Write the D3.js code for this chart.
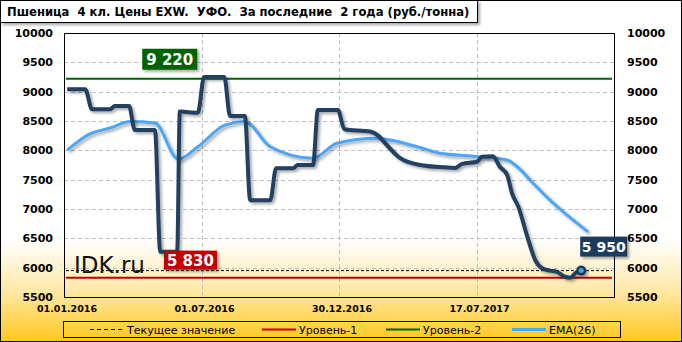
<!DOCTYPE html>
<html>
<head>
<meta charset="utf-8">
<script src="https://d3js.org/d3.v7.min.js"></script>
<style>
    body { margin: 0; padding: 0; background: #fff; }
    svg text { font-family: "DejaVu Sans", Verdana, sans-serif; }
</style>
</head>
<body>
<div id="chart"></div>
<script>
    // weekly index (0 = 01.01.2016) and price
    const priceSeries = [
        [0.6, 9040], [4.0, 9040], [5.3, 8700], [8.7, 8700], [9.6, 8755], [12.3, 8755],
        [13.4, 8345], [17.2, 8345], [18.2, 6270], [21.4, 6270], [21.9, 8660], [25.3, 8640],
        [26.5, 9250], [30.3, 9250], [31.4, 8585], [34.2, 8585], [35.2, 7150], [39.0, 7150],
        [40.1, 7694], [43.3, 7694], [44.2, 7750], [47.1, 7750], [48.0, 8688], [51.8, 8688],
        [53.0, 8360], [57.9, 8320], [59.4, 8250], [60.7, 8125], [63.5, 7870], [67.3, 7750],
        [72.0, 7710], [73.9, 7700], [75.3, 7770], [78.1, 7806], [79.0, 7890], [81.1, 7900],
        [82.4, 7720], [83.8, 7580], [84.7, 7270], [85.9, 7040], [87.6, 6530], [89.1, 6130],
        [90.4, 5990], [91.9, 5950], [93.2, 5930], [94.7, 5845], [95.7, 5830], [97.0, 5930],
        [97.8, 5950]
    ];
    const emaSeries = [
        [0.6, 8005], [4.9, 8280], [8.7, 8380], [12.5, 8490], [17.2, 8465], [21.6, 7850],
        [25.3, 8060], [30.4, 8430], [34.2, 8490], [39.0, 8062], [47.1, 7865], [51.6, 8120],
        [59.2, 8205], [61.6, 8175], [66.8, 8062], [71.1, 7950], [77.3, 7900], [83.8, 7835],
        [85.7, 7720], [88.7, 7440], [91.9, 7150], [95.1, 6900], [99.1, 6610]
    ];
    const level1 = 5830;
    const level2 = 9220;
    const current = 5950;
    const yTicks = [5500, 6000, 6500, 7000, 7500, 8000, 8500, 9000, 9500, 10000];
    const xTickIdx = [0, 26, 52, 78];
    const xTickLabels = ["01.01.2016", "01.07.2016", "30.12.2016", "17.07.2017"];
    const legendItems = ["Текущее значение", "Уровень-1", "Уровень-2", "EMA(26)"];
    const title = "Пшеница  4 кл. Цены EXW.  УФО.  За последние  2 года (руб./тонна)";

    const W = 682, H = 342;
    const pL = 64, pR = 614, pT = 33, pB = 297;

    const svg = d3.select("#chart").append("svg")
        .attr("width", W).attr("height", H);

    const defs = svg.append("defs");
    const grad = defs.append("linearGradient").attr("id", "bg")
        .attr("x1", 0).attr("y1", 0).attr("x2", 0).attr("y2", 1);
    grad.append("stop").attr("offset", "0.70").attr("stop-color", "#ffffff");
    grad.append("stop").attr("offset", "0.85").attr("stop-color", "#ffe9a6");
    grad.append("stop").attr("offset", "1").attr("stop-color", "#ffc81c");

    const shadow = defs.append("filter").attr("id", "shadow")
        .attr("x", "-10%").attr("y", "-10%").attr("width", "130%").attr("height", "130%");
    shadow.append("feDropShadow").attr("dx", 2).attr("dy", 2)
        .attr("stdDeviation", 1.5).attr("flood-color", "#000").attr("flood-opacity", 0.35);

    svg.append("rect").attr("x", 0.5).attr("y", 0.5)
        .attr("width", W - 1).attr("height", H - 1)
        .attr("fill", "url(#bg)").attr("stroke", "#000");

    let x = d3.scaleLinear().domain([0, 104]).range([pL, pR]);
    let y = d3.scaleLinear().domain([5500, 10000]).range([pB, pT]);

    // grid
    svg.append("g").selectAll("line").data(yTicks.slice(1, -1)).enter().append("line")
        .attr("x1", pL).attr("x2", pR)
        .attr("y1", d => Math.round(y(d)) + 0.5).attr("y2", d => Math.round(y(d)) + 0.5)
        .attr("stroke", "#bfbfbf").attr("stroke-dasharray", "4,3");
    svg.append("g").selectAll("line").data(xTickIdx.slice(1)).enter().append("line")
        .attr("x1", d => Math.round(x(d)) + 0.5).attr("x2", d => Math.round(x(d)) + 0.5)
        .attr("y1", pT).attr("y2", pB)
        .attr("stroke", "#bfbfbf").attr("stroke-dasharray", "4,3");

    svg.append("rect").attr("x", pL + 0.5).attr("y", pT + 0.5)
        .attr("width", pR - pL).attr("height", pB - pT)
        .attr("fill", "none").attr("stroke", "#000");

    // axes labels
    svg.append("g").selectAll("text").data(yTicks).enter().append("text")
        .attr("x", 53).attr("y", d => y(d) + 4)
        .attr("text-anchor", "end").attr("font-size", 11).attr("font-weight", "bold")
        .text(d => d);
    svg.append("g").selectAll("text").data(yTicks).enter().append("text")
        .attr("x", 627).attr("y", d => y(d) + 4)
        .attr("font-size", 11).attr("font-weight", "bold")
        .text(d => d);
    svg.append("g").selectAll("text").data(xTickIdx).enter().append("text")
        .attr("x", d => x(d) + 3).attr("y", 312)
        .attr("text-anchor", "middle").attr("font-size", 9.5).attr("font-weight", "bold")
        .text((d, i) => xTickLabels[i]);

    // level lines
    svg.append("line").attr("x1", pL + 2).attr("x2", pR - 2)
        .attr("y1", y(current)).attr("y2", y(current))
        .attr("stroke", "#000").attr("stroke-dasharray", "3,2");
    svg.append("line").attr("x1", pL + 2).attr("x2", pR - 2)
        .attr("y1", y(level1)).attr("y2", y(level1))
        .attr("stroke", "#c00000").attr("stroke-width", 2);
    svg.append("line").attr("x1", pL + 2).attr("x2", pR - 2)
        .attr("y1", y(level2)).attr("y2", y(level2))
        .attr("stroke", "#006400").attr("stroke-width", 2);

    const line = d3.line().x(d => x(d[0])).y(d => y(d[1])).curve(d3.curveMonotoneX);

    svg.append("path").datum(emaSeries).attr("d", line)
        .attr("fill", "none").attr("stroke", "#4ea6f5").attr("stroke-width", 3)
        .attr("filter", "url(#shadow)");
    svg.append("path").datum(priceSeries).attr("d", line)
        .attr("fill", "none").attr("stroke", "#243f60").attr("stroke-width", 4)
        .attr("stroke-linejoin", "round").attr("filter", "url(#shadow)");

    const last = priceSeries[priceSeries.length - 1];
    svg.append("circle").attr("cx", x(last[0])).attr("cy", y(last[1])).attr("r", 5)
        .attr("fill", "#1f3a5f").attr("filter", "url(#shadow)");
    svg.append("circle").attr("cx", x(last[0])).attr("cy", y(last[1])).attr("r", 2.5)
        .attr("fill", "#3fa9d8");

    // value boxes
    function valueBox(cx, cy, w, h, fill, label, fs) {
        svg.append("rect").attr("x", cx).attr("y", cy).attr("width", w).attr("height", h)
            .attr("fill", fill).attr("filter", "url(#shadow)");
        svg.append("text").attr("x", cx + w / 2).attr("y", cy + h / 2 + fs * 0.36)
            .attr("text-anchor", "middle").attr("fill", "#fff")
            .attr("font-size", fs).attr("font-weight", "bold")
            .style("white-space", "pre").text(label);
    }
    valueBox(x(14.8), y(level2) - 30, 55, 21, "#006400", "9 220", 15);
    valueBox(x(18.9), y(level1) - 27, 53, 19, "#c00000", "5 830", 15);
    valueBox(x(97.8) - 1, y(current) - 34, 47, 20, "#1f3a5f", "5 950", 14);

    svg.append("text").attr("x", 74).attr("y", 273)
        .attr("font-family", "Liberation Sans, Arial, sans-serif")
        .attr("font-size", 23).attr("fill", "#111").text("IDK.ru");

    // title
    svg.append("rect").attr("x", 0.5).attr("y", 0.5).attr("width", 477).attr("height", 22)
        .attr("fill", "#fff").attr("stroke", "#000").attr("filter", "url(#shadow)");
    svg.append("text").attr("x", 7).attr("y", 16)
        .attr("font-size", 11.6).attr("font-weight", "bold")
        .style("white-space", "pre").text(title);

    // legend
    svg.append("rect").attr("x", 63.5).attr("y", 321.5).attr("width", 557).attr("height", 16)
        .attr("fill", "none").attr("stroke", "#000");
    const lg = [
        {x: 90, color: "#000", w: 1, dash: "4,3"},
        {x: 262, color: "#c00000", w: 2, dash: null},
        {x: 386, color: "#006400", w: 2, dash: null},
        {x: 512, color: "#4ea6f5", w: 3, dash: null}
    ];
    lg.forEach((d, i) => {
        svg.append("line").attr("x1", d.x).attr("x2", d.x + 34)
            .attr("y1", 329.5).attr("y2", 329.5)
            .attr("stroke", d.color).attr("stroke-width", d.w)
            .attr("stroke-dasharray", d.dash);
        svg.append("text").attr("x", d.x + 37).attr("y", 333.5)
            .attr("font-size", 11).text(legendItems[i]);
    });
</script>
</body>
</html>
